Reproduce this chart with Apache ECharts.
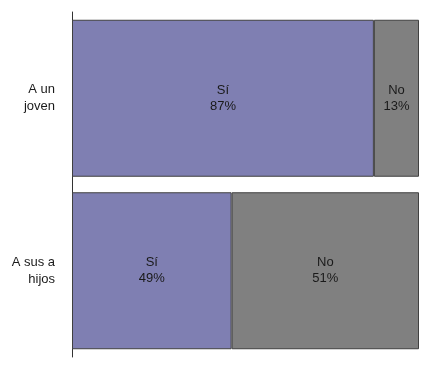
<!DOCTYPE html>
<html>
<head>
<meta charset="utf-8">
<script src="https://cdn.jsdelivr.net/npm/echarts@6/dist/echarts.min.js"></script>
<style>html,body{margin:0;padding:0;background:#fff;}#c{width:435px;height:370px;}</style>
</head>
<body>
<div id="c"></div>
<script>
var categories = ['A un\njoven', 'A sus a\nhijos'];
// bar lengths as drawn in the reference picture (share of the full width)
var siValues = [87, 46];
var noValues = [13, 54];
// percentages printed on the bars
var siLabels = ['87%', '49%'];
var noLabels = ['13%', '51%'];
var seriesNames = ['Sí', 'No'];

var chart = echarts.init(document.getElementById('c'), null, {renderer: 'canvas'});
function lbl(name, texts) {
  return {
    show: true, position: 'inside', color: '#1a1a1a',
    fontFamily: 'Liberation Sans, Arial, sans-serif', fontSize: 13, lineHeight: 16,
    formatter: function (p) { return name + '\n' + texts[p.dataIndex]; }
  };
}
chart.setOption({
  animation: false,
  grid: {left: 72, right: 16, top: 12, bottom: 13},
  xAxis: {type: 'value', min: 0, max: 100, show: false},
  yAxis: {
    type: 'category', data: categories, inverse: true,
    axisLine: {show: true, lineStyle: {color: '#333', width: 1}},
    axisTick: {show: false},
    axisLabel: {color: '#1a1a1a', fontFamily: 'Liberation Sans, Arial, sans-serif', fontSize: 13, lineHeight: 17, margin: 17, align: 'right', padding: [4, 0, 0, 0]}
  },
  series: [
    {name: seriesNames[0], type: 'bar', stack: 's', data: siValues, barCategoryGap: '9%',
     itemStyle: {color: '#7f7fb2', borderColor: '#404040', borderWidth: 1}, label: lbl(seriesNames[0], siLabels)},
    {name: seriesNames[1], type: 'bar', stack: 's', data: noValues, barCategoryGap: '9%',
     itemStyle: {color: '#808080', borderColor: '#404040', borderWidth: 1}, label: lbl(seriesNames[1], noLabels)}
  ]
});
</script>
</body>
</html>
